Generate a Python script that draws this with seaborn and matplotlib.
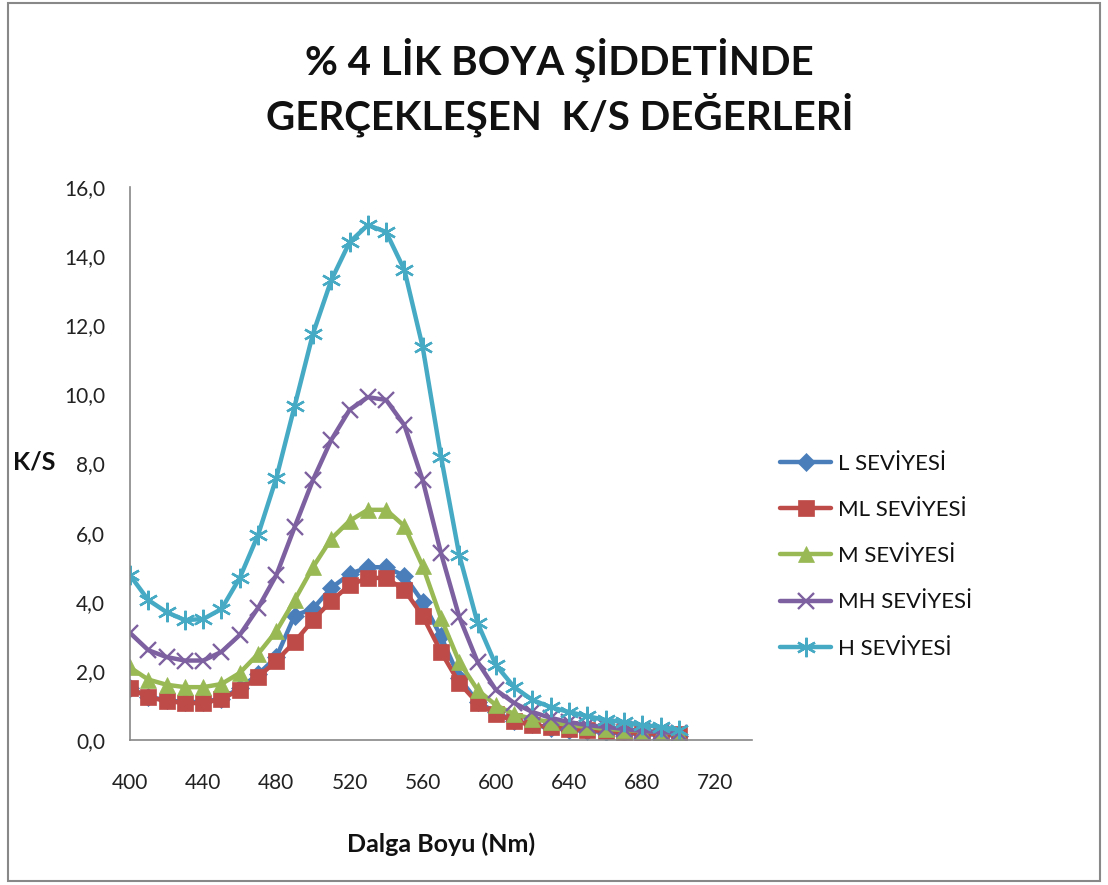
import matplotlib
matplotlib.use("Agg")
import matplotlib.pyplot as plt
from matplotlib.patches import Rectangle
from matplotlib.ticker import FuncFormatter, MultipleLocator
import seaborn as sns
import pandas as pd

# Wavelengths (nm)
wavelength = list(range(400, 701, 10))

l_seviyesi = [1.50, 1.25, 1.15, 1.10, 1.10, 1.20, 1.50, 1.90, 2.40, 3.60, 3.80, 4.40, 4.80, 5.00, 5.00, 4.75,
              4.00, 3.00, 1.80, 1.10, 0.80, 0.55, 0.45, 0.35, 0.30, 0.27, 0.22, 0.20, 0.17, 0.15, 0.13]
ml_seviyesi = [1.50, 1.24, 1.13, 1.07, 1.07, 1.19, 1.45, 1.82, 2.29, 2.84, 3.47, 4.02, 4.48, 4.69, 4.69, 4.34,
               3.59, 2.55, 1.65, 1.07, 0.75, 0.55, 0.43, 0.38, 0.32, 0.29, 0.26, 0.23, 0.20, 0.17, 0.17]
m_seviyesi = [2.10, 1.75, 1.60, 1.53, 1.53, 1.62, 1.94, 2.49, 3.15, 4.05, 5.00, 5.82, 6.34, 6.66, 6.66, 6.19,
              5.03, 3.53, 2.26, 1.45, 1.01, 0.75, 0.61, 0.52, 0.43, 0.38, 0.32, 0.29, 0.26, 0.23, 0.20]
mh_seviyesi = [3.10, 2.60, 2.40, 2.30, 2.30, 2.55, 3.04, 3.82, 4.77, 6.16, 7.52, 8.68, 9.55, 9.92, 9.84, 9.11,
               7.52, 5.41, 3.56, 2.26, 1.45, 1.07, 0.81, 0.64, 0.52, 0.43, 0.38, 0.32, 0.26, 0.23, 0.20]
h_seviyesi = [4.77, 4.05, 3.70, 3.47, 3.50, 3.79, 4.69, 5.93, 7.58, 9.66, 11.75, 13.30, 14.40, 14.90, 14.70, 13.60,
              11.37, 8.20, 5.35, 3.39, 2.17, 1.53, 1.16, 0.95, 0.81, 0.69, 0.58, 0.52, 0.43, 0.38, 0.29]

series_names = ["L SEVİYESİ", "ML SEVİYESİ", "M SEVİYESİ", "MH SEVİYESİ", "H SEVİYESİ"]
series_values = [l_seviyesi, ml_seviyesi, m_seviyesi, mh_seviyesi, h_seviyesi]
series_colors = ["#4A7EBB", "#BE4B48", "#98B954", "#7D60A0", "#46AAC5"]
series_markers = ["D", "s", "^", "x", (6, 2, 0)]
series_msizes = [9, 12, 12, 12, 14]

x_ticks = [400, 440, 480, 520, 560, 600, 640, 680, 720]

sns.set_theme(style="white")
plt.rcParams["font.family"] = ["Lato", "DejaVu Sans"]

fig = plt.figure(figsize=(11.08, 8.85), dpi=100)
ax = fig.add_axes([0.1173, 0.1638, 0.5614, 0.6249])

rows = []
for name, vals in zip(series_names, series_values):
    for w, v in zip(wavelength, vals):
        rows.append({"wavelength": w, "ks": v, "series": name})
df = pd.DataFrame(rows)

for name, color, marker, ms in zip(series_names, series_colors, series_markers, series_msizes):
    sub = df[df["series"] == name]
    filled = marker in ("D", "s", "^")
    sns.lineplot(data=sub, x="wavelength", y="ks", ax=ax, color=color, linewidth=3.2,
                 marker=marker, markersize=ms, markeredgewidth=1.7 if not filled else 0.5,
                 markeredgecolor=color, label=name, estimator=None, sort=False)

ax.set_xlim(400, 740)
ax.set_ylim(0, 16)
ax.set_xticks(x_ticks)
ax.yaxis.set_major_locator(MultipleLocator(2))
ax.yaxis.set_major_formatter(FuncFormatter(lambda v, p: f"{v:.1f}".replace(".", ",")))
ax.tick_params(axis="x", labelsize=15, colors="#222222", length=0, pad=24)
ax.tick_params(axis="y", labelsize=15, colors="#222222", length=0, pad=18)

for side in ("top", "right"):
    ax.spines[side].set_visible(False)
for side in ("left", "bottom"):
    ax.spines[side].set_color("#888888")
    ax.spines[side].set_linewidth(1.2)

ax.set_xlabel("Dalga Boyu (Nm)", fontsize=18, fontweight="bold", labelpad=28, color="#111111")
ax.set_ylabel("")
fig.text(0.012, 0.478, "K/S", fontsize=18, fontweight="bold", color="#111111", va="center", ha="left")

fig.text(0.505, 0.933, "% 4 LİK BOYA ŞİDDETİNDE", fontsize=29, fontweight="bold",
         ha="center", va="center", color="#111111")
fig.text(0.505, 0.870, "GERÇEKLEŞEN  K/S DEĞERLERİ", fontsize=29, fontweight="bold",
         ha="center", va="center", color="#111111")

ax.get_legend().remove()
handles, labels = ax.get_legend_handles_labels()
fig.legend(handles, labels, loc="upper left", bbox_to_anchor=(0.686, 0.51), frameon=False,
           fontsize=16, labelspacing=1.18, handlelength=2.3, handletextpad=0.3, labelcolor="#111111")

fig.patches.append(Rectangle((0.007, 0.004), 0.986, 0.993, transform=fig.transFigure,
                             fill=False, edgecolor="#888888", linewidth=1.5))

fig.savefig("out.png", dpi=100, facecolor="white")
